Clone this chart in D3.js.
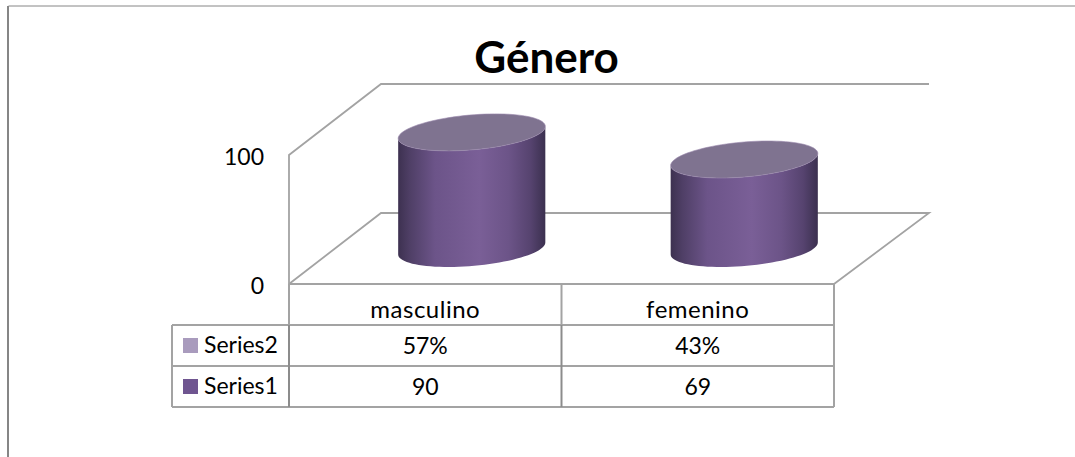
<!DOCTYPE html>
<html><head><meta charset="utf-8">
<script src="https://cdn.jsdelivr.net/npm/d3@7"></script>
<style>html,body{margin:0;padding:0;background:#fff}svg{display:block}text{font-family:Lato,"Open Sans",sans-serif;fill:#000}</style>
</head><body><svg id="c" width="1075" height="457"></svg>
<script>
const title = "Género";
const categories = ["masculino", "femenino"];
const series1Name = "Series1";
const series2Name = "Series2";
const series1Values = [90, 69];
const series2Labels = ["57%", "43%"];
const tickValues = [0, 100];

const W = 1075, H = 457;
const svg = d3.select("#c");
const x = d3.scaleBand().domain(categories).range([289, 834]);
const y = d3.scaleLinear().domain([0, 100]).range([284, 155]);
const depthX = 92, depthY = 71;
const gridColor = "#a3a3a3";

// outer frame
svg.append("path").attr("d", `M8.5,${H}V6H${W}`).attr("fill", "none").attr("stroke", "#868686").attr("stroke-width", 1);
svg.append("path").attr("d", `M8,${H}V6`).attr("fill", "none").attr("stroke", "#868686").attr("stroke-width", 2);

// gradients
const defs = svg.append("defs");
const grad = defs.append("linearGradient").attr("id", "side");
[[0, "#3d3150"], [0.08, "#4f3f66"], [0.25, "#6c5489"], [0.55, "#7a5f97"], [0.75, "#6c5488"], [0.9, "#56436f"], [1, "#3b304f"]]
  .forEach(([o, c]) => grad.append("stop").attr("offset", o).attr("stop-color", c));

// walls and floor
const x0 = x.range()[0], x1 = x.range()[1], yB = y(0), yT = y(100);
const wall = svg.append("g").attr("fill", "none").attr("stroke", gridColor).attr("stroke-width", 1.8);
wall.append("path").attr("d", `M${x0},${yB}V${yT}L${x0 + depthX},${yT - depthY}H${x1 + depthX + 3}`);
wall.append("path").attr("d", `M${x0},${yB}L${x0 + depthX},${yB - depthY}H${x1 + depthX + 3}L${x1},${yB}`);

// cylinders
const rx = x.bandwidth() * 0.27, ry = 17.5, skew = 6;
const angles = d3.range(0, 361, 4).map(d => d * Math.PI / 180);
const frontAngles = d3.range(0, 181, 4).map(d => d * Math.PI / 180);
const pt = (cx, cy, t) => [cx + rx * Math.cos(t), cy - skew * Math.cos(t) + ry * Math.sin(t)];
const line = d3.line();
const bars = svg.append("g").selectAll("g").data(categories.map((c, i) => ({ c, v: series1Values[i] }))).join("g");
bars.each(function (d) {
  const g = d3.select(this);
  const cx = x(d.c) + x.bandwidth() / 2 + depthX / 2 + 0.5;
  const cyB = y(0) - 35.5, cyT = y(d.v) - 35.5;
  const bottom = frontAngles.map(t => pt(cx, cyB, t));
  const topBack = frontAngles.slice().reverse().map(t => pt(cx, cyT, t));
  g.append("path").attr("d", line(bottom.concat(topBack)) + "Z").attr("fill", "url(#side)");
  g.append("path").attr("d", line(angles.map(t => pt(cx, cyT, t))) + "Z").attr("fill", "#7f7390").attr("stroke", "#9a88ad").attr("stroke-width", 0.6);
});

// title
svg.append("text").attr("x", 546.5).attr("y", 73).attr("text-anchor", "middle")
  .attr("font-size", 44).attr("font-weight", 700).text(title);

// value axis
const axis = svg.append("g").attr("transform", "translate(264,2)")
  .call(d3.axisLeft(y).tickValues(tickValues).tickSize(0).tickPadding(0).tickFormat(d3.format("d")));
axis.select(".domain").remove();
axis.attr("font-family", null).attr("font-size", null);
axis.selectAll("text").attr("font-size", 23).style("fill", "#000");

// data table
const rows = [284, 325, 366, 407];
const tableX = 172;
const t = svg.append("g").attr("fill", "none").attr("stroke", gridColor).attr("stroke-width", 2);
t.append("path").attr("d", `M${x0},${rows[0]}H${x1}`);
t.append("path").attr("d", `M${tableX},${rows[1]}H${x1}M${tableX},${rows[2]}H${x1}M${tableX},${rows[3]}H${x1}`);
t.append("path").attr("d", `M${tableX},${rows[1]}V${rows[3]}`);
categories.forEach(c => {
  t.append("path").attr("d", `M${x(c)},${rows[0]}V${rows[1]}`);
  t.append("path").attr("d", `M${x(c)},${rows[1]}V${rows[3]}`).attr("stroke", "#8c8c8c");
});
t.append("path").attr("d", `M${x1},${rows[0]}V${rows[3]}`);

const cell = (tx, ty, s, size = 23, a = "middle") => svg.append("text").attr("x", tx).attr("y", ty).attr("text-anchor", a).attr("font-size", size).text(s);
categories.forEach((c, i) => {
  const cx = x(c) + x.bandwidth() / 2;
  cell(cx, 317.5, c, 24).attr("letter-spacing", 0.5);
  cell(cx, 354, series2Labels[i]);
  cell(cx, 395, series1Values[i]);
});
[[series2Name, "#a99bbd", 346], [series1Name, "#6f5590", 387]].forEach(([n, col, yy]) => {
  svg.append("rect").attr("x", 183).attr("y", yy - 8).attr("width", 15).attr("height", 15).attr("fill", col);
  cell(204, yy + 7, n, 23, "start");
});
</script></body></html>
